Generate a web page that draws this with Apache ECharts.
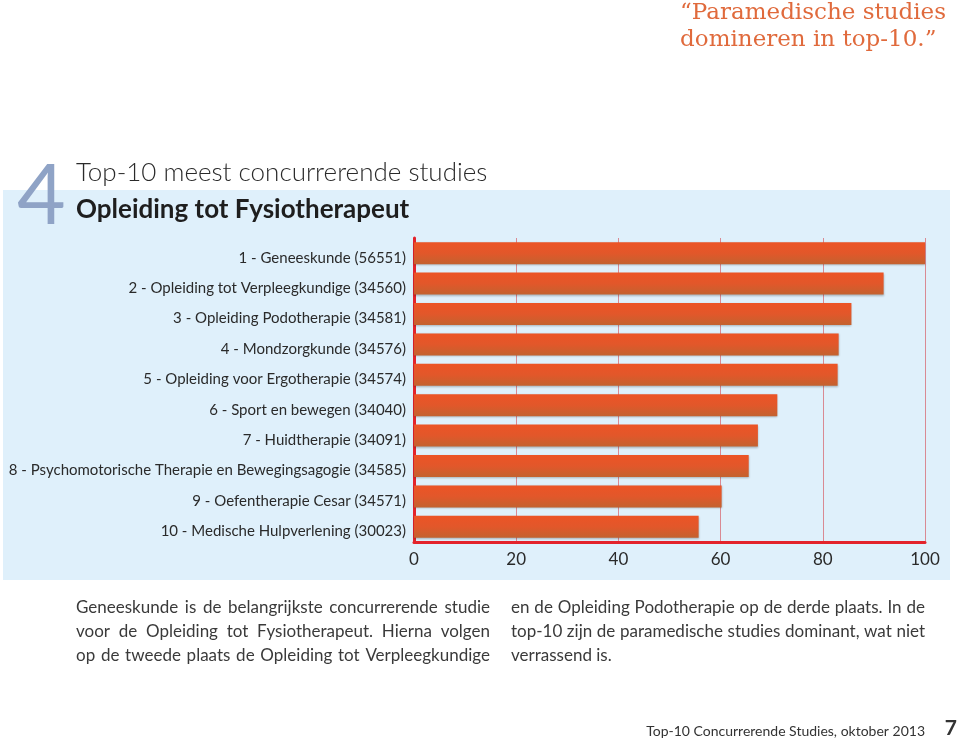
<!DOCTYPE html>
<html>
<head>
<meta charset="utf-8">
<script src="https://cdn.jsdelivr.net/npm/echarts@6/dist/echarts.min.js"></script>
<style>
  html, body { margin: 0; padding: 0; background: #fff; }
  #chart { width: 960px; height: 742px; }
</style>
</head>
<body>
<div id="chart"></div>
<script>
// studies, ranked 1 (top) to 10
const categories = [
  '1 - Geneeskunde (56551)',
  '2 - Opleiding tot Verpleegkundige (34560)',
  '3 - Opleiding Podotherapie (34581)',
  '4 - Mondzorgkunde (34576)',
  '5 - Opleiding voor Ergotherapie (34574)',
  '6 - Sport en bewegen (34040)',
  '7 - Huidtherapie (34091)',
  '8 - Psychomotorische Therapie en Bewegingsagogie (34585)',
  '9 - Oefentherapie Cesar (34571)',
  '10 - Medische Hulpverlening (30023)'
];
const scores = [100, 91.9, 85.6, 83.1, 82.9, 71.1, 67.3, 65.5, 60.2, 55.7];
const xTicks = [0, 20, 40, 60, 80, 100];

const leftText = [
  'Geneeskunde is de belangrijkste concurrerende studie',
  'voor de Opleiding tot Fysiotherapeut. Hierna volgen',
  'op de tweede plaats de Opleiding tot Verpleegkundige'
];
const rightText = [
  'en de Opleiding Podotherapie op de derde plaats. In de',
  'top-10 zijn de paramedische studies dominant, wat niet',
  'verrassend is.'
];

const chart = echarts.init(document.getElementById('chart'));

const bodySize = 17;
const ctx = document.createElement('canvas').getContext('2d');
ctx.font = bodySize + 'px Lato';

const bodyStyle = t => ({ text: t, fontSize: bodySize, fontFamily: 'Lato', fill: '#3a3a3a' });

// justified paragraph lines: each word placed so the line fills the column
function justify(lines, x0, width, lastJustified) {
  const out = [];
  lines.forEach((line, i) => {
    const top = 599 + i * 24;
    const words = line.split(' ');
    const isLast = i === lines.length - 1 && !lastJustified;
    if (isLast || words.length < 2) {
      out.push({ type: 'text', x: x0, y: top, style: bodyStyle(line) });
      return;
    }
    const widths = words.map(w => ctx.measureText(w).width);
    const total = widths.reduce((a, b) => a + b, 0);
    const gap = Math.max(3, (width - total) / (words.length - 1));
    let x = x0;
    words.forEach((w, j) => {
      out.push({ type: 'text', x: x, y: top, style: bodyStyle(w) });
      x += widths[j] + gap;
    });
  });
  return out;
}

const option = {
  backgroundColor: '#ffffff',
  animation: false,
  graphic: [
    { type: 'rect', shape: { x: 3, y: 190, width: 947, height: 390 },
      style: { fill: '#dff0fb' }, z: -10 },
    { type: 'text', right: 14, top: 0,
      style: { text: '\u201cParamedische studies\ndomineren in top-10.\u201d', fontSize: 23, fontFamily: 'DejaVu Serif',
               fill: '#e06a3c', align: 'right', lineHeight: 27 } },
    { type: 'text', left: 17, top: 155,
      style: { text: '4', fontSize: 84, fontFamily: 'Lato', fill: '#8fa3c6' } },
    { type: 'text', left: 76, top: 160,
      style: { text: 'Top-10 meest concurrerende studies', fontSize: 26, fontWeight: 300, fontFamily: 'Lato', fill: '#2a2a2a' } },
    { type: 'text', left: 76, top: 197,
      style: { text: 'Opleiding tot Fysiotherapeut', fontSize: 26, fontWeight: 'bold', fontFamily: 'Lato', fill: '#1e1e1e' } },
    ...justify(leftText, 76, 414, true),
    ...justify(rightText, 511, 414, false),
    { type: 'text', right: 35, top: 724,
      style: { text: 'Top-10 Concurrerende Studies, oktober 2013', fontSize: 14, fontFamily: 'Lato', fill: '#333' } },
    { type: 'text', right: 3, top: 718,
      style: { text: '7', fontSize: 21, fontWeight: 'bold', fontFamily: 'Lato', fill: '#333' } }
  ],
  grid: { left: 414, right: 35, top: 238, bottom: 200, containLabel: false },
  xAxis: {
    type: 'value', min: 0, max: 100, interval: 20,
    axisLine: { show: true, lineStyle: { color: '#e3232b', width: 3 } },
    axisTick: { show: false },
    splitLine: { show: true, lineStyle: { color: '#d98a93', width: 1 } },
    axisLabel: {
      color: '#2a2a2a', fontSize: 17, fontFamily: 'Lato', margin: 9,
      customValues: xTicks
    }
  },
  yAxis: {
    type: 'category', data: categories, inverse: true,
    axisLine: { show: true, onZero: false, lineStyle: { color: '#e3232b', width: 3 } },
    axisTick: { show: false },
    splitLine: { show: false },
    axisLabel: {
      margin: 8,
      formatter: v => '{a|' + v + '}',
      rich: { a: { color: '#2a2a2a', fontSize: 15, fontFamily: 'Lato', padding: [9, 0, 0, 0] } }
    }
  },
  series: [{
    type: 'bar', data: scores, barWidth: 22,
    itemStyle: {
      color: new echarts.graphic.LinearGradient(0, 0, 0, 1, [
        { offset: 0, color: '#ec5426' },
        { offset: 0.5, color: '#e2572a' },
        { offset: 1, color: '#c3622f' }
      ]),
      shadowColor: 'rgba(0,0,0,0.25)', shadowBlur: 2, shadowOffsetY: 1
    }
  }]
};
chart.setOption(option);
</script>
</body>
</html>
